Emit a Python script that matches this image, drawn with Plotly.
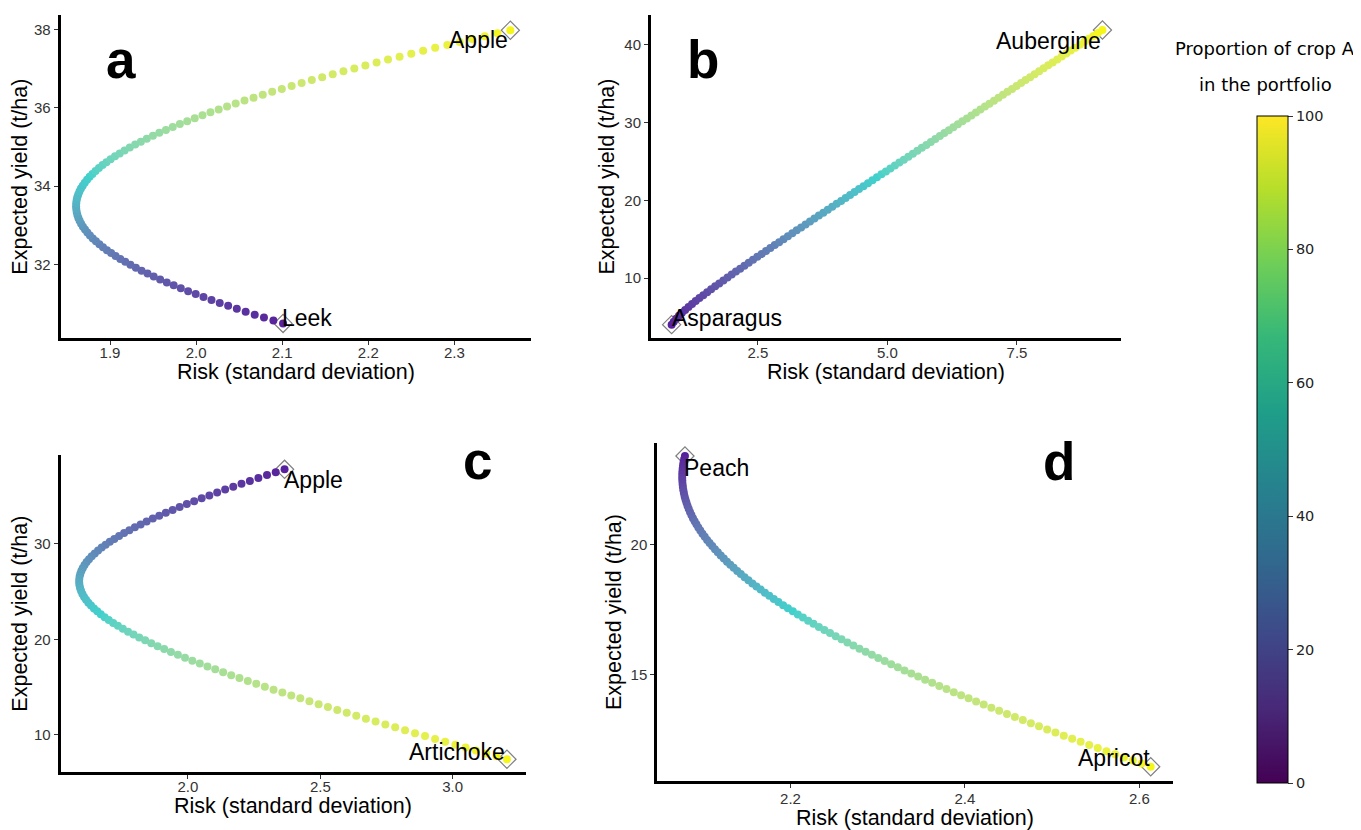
import numpy as np
import plotly.graph_objects as go

# ---------------- data ----------------
panel_letters = ["a", "b", "c", "d"]
crop_a_names = ["Apple", "Aubergine", "Artichoke", "Apricot"]   # crop A (proportion = 100)
crop_b_names = ["Leek", "Asparagus", "Apple", "Peach"]           # crop B (proportion = 0)
crop_a_yield = [37.98, 41.93, 7.46, 11.43]    # expected yield (t/ha)
crop_b_yield = [30.49, 4.00, 37.82, 23.44]
crop_a_sd = [2.365, 9.15, 3.205, 2.613]       # risk (standard deviation)
crop_b_sd = [2.101, 0.834, 2.365, 2.079]
crop_corr = [0.41, 0.50, -0.31, 0.76]         # correlation between the two crops
proportion_a = list(range(0, 101))            # % of crop A in the portfolio

x_ticks = [[1.9, 2.0, 2.1, 2.2, 2.3], [2.5, 5.0, 7.5], [2.0, 2.5, 3.0], [2.2, 2.4, 2.6]]
y_ticks = [[32, 34, 36, 38], [10, 20, 30, 40], [10, 20, 30], [15, 20]]
colorbar_ticks = [0, 20, 40, 60, 80, 100]

# ---------------- layout settings ----------------
# The page body has an 8 px margin, so the figure is drawn 8 px in from the corner.
OFF = 8
W, H = 1361 - OFF, 830 - OFF


def px(xp):
    return (xp - OFF) / W


def py(yp):
    return 1 - (yp - OFF) / H


# pixel boxes of the 4 panels in the screenshot: (left, right, top, bottom)
boxes = [(60.6, 531, 15, 338.3), (651, 1121, 15, 338), (60.6, 526, 455, 772.3), (657.3, 1172.5, 443.3, 780.7)]
x_ranges = [[1.8426, 2.389], [0.436, 9.508], [1.519, 3.277], [2.0473, 2.638]]
y_ranges = [[30.11, 38.37], [2.28, 43.86], [6.09, 39.32], [10.89, 23.93]]
xtitle_gap = [34, 34, 33.7, 37]
xtick_standoff = [-5, -5, -5, -2]
letter_pos = [(120.6, 59.8), (702.5, 59.8), (477.3, 460.8), (1058.6, 461.5)]
# label placement: (xanchor, xshift, yshift)
label_a_place = [("right", 0, -10), ("right", 1, -11), ("right", 0.5, 7.6), ("right", 1, 8.4)]
label_b_place = [("left", -3, 5.5), ("left", -1.5, 6.6), ("left", -3, -10.7), ("left", -3, -12.3)]

FONT = "Liberation Sans, Arial, sans-serif"


# ---- colour gradient purple -> turquoise -> yellow, interpolated in CIE Lab (like ggplot) ----
def _srgb_to_lab(hexc):
    rgb = np.array([int(hexc[i:i + 2], 16) for i in (1, 3, 5)]) / 255.0
    lin = np.where(rgb <= 0.04045, rgb / 12.92, ((rgb + 0.055) / 1.055) ** 2.4)
    M = np.array([[0.4124, 0.3576, 0.1805], [0.2126, 0.7152, 0.0722], [0.0193, 0.1192, 0.9505]])
    xyz = M @ lin / np.array([0.95047, 1.0, 1.08883])
    f = np.where(xyz > 0.008856, np.cbrt(xyz), 7.787 * xyz + 16 / 116)
    return np.array([116 * f[1] - 16, 500 * (f[0] - f[1]), 200 * (f[1] - f[2])])


def _lab_to_hex(lab):
    L, a, b = lab
    fy = (L + 16) / 116
    fx = fy + a / 500
    fz = fy - b / 200
    f = np.array([fx, fy, fz])
    xyz = np.where(f ** 3 > 0.008856, f ** 3, (f - 16 / 116) / 7.787) * np.array([0.95047, 1.0, 1.08883])
    Mi = np.array([[3.2406, -1.5372, -0.4986], [-0.9689, 1.8758, 0.0415], [0.0557, -0.2040, 1.0570]])
    lin = np.clip(Mi @ xyz, 0, 1)
    rgb = np.where(lin <= 0.0031308, 12.92 * lin, 1.055 * lin ** (1 / 2.4) - 0.055)
    rgb = np.clip(np.round(rgb * 255), 0, 255).astype(int)
    return "#%02x%02x%02x" % tuple(rgb)


anchors = ["#57209c", "#42d0cc", "#f6f61a"]
labs = [_srgb_to_lab(c) for c in anchors]
dot_scale = []
for k in range(41):
    s = k / 40
    if s <= 0.5:
        t = s / 0.5
        lab = labs[0] * (1 - t) + labs[1] * t
    else:
        t = (s - 0.5) / 0.5
        lab = labs[1] * (1 - t) + labs[2] * t
    dot_scale.append([s, _lab_to_hex(lab)])

fig = go.Figure()
layout = dict(
    width=W, height=H, margin=dict(l=0, r=0, t=0, b=0),
    paper_bgcolor="white", plot_bgcolor="white", showlegend=False,
    font=dict(family=FONT, color="black"),
)
annotations = []

for i in range(4):
    sfx = "" if i == 0 else str(i + 1)
    xa, ya = "x" + sfx, "y" + sfx
    l, r, t, b = boxes[i]
    w = np.array(proportion_a) / 100.0
    cov = crop_corr[i] * crop_a_sd[i] * crop_b_sd[i]
    risk = np.sqrt(w ** 2 * crop_a_sd[i] ** 2 + (1 - w) ** 2 * crop_b_sd[i] ** 2 + 2 * w * (1 - w) * cov)
    yld = w * crop_a_yield[i] + (1 - w) * crop_b_yield[i]

    # endpoint diamonds (the two single crops)
    fig.add_trace(go.Scatter(
        x=[crop_b_sd[i], crop_a_sd[i]], y=[crop_b_yield[i], crop_a_yield[i]],
        mode="markers", xaxis=xa, yaxis=ya, hoverinfo="skip",
        marker=dict(symbol="diamond", size=14, color="white", line=dict(color="#808080", width=1.2)),
    ))
    # portfolio frontier
    fig.add_trace(go.Scatter(
        x=risk, y=yld, mode="markers", xaxis=xa, yaxis=ya,
        marker=dict(size=8, color=proportion_a, colorscale=dot_scale, cmin=0, cmax=100,
                    showscale=False, line=dict(width=0)),
    ))

    axis_common = dict(
        showline=True, linecolor="black", linewidth=3, mirror=False,
        showgrid=False, zeroline=False, ticks="outside", ticklen=4, tickwidth=1.3,
        tickcolor="#333333", tickfont=dict(size=15, color="#333333", family=FONT),
    )
    layout["xaxis" + sfx] = dict(
        axis_common, domain=[px(l), px(r)], anchor=ya, range=x_ranges[i],
        tickvals=x_ticks[i], tickformat=".1f", ticklabelstandoff=xtick_standoff[i],
    )
    layout["yaxis" + sfx] = dict(
        axis_common, domain=[py(b), py(t)], anchor=xa, range=y_ranges[i],
        tickvals=y_ticks[i],
        title=dict(text="Expected yield (t/ha)", font=dict(size=21.5, color="black"), standoff=4),
    )
    # x-axis title, placed exactly under the axis
    annotations.append(dict(
        text="Risk (standard deviation)", x=px((l + r) / 2), y=py(b + xtitle_gap[i]),
        xref="paper", yref="paper", xanchor="center", yanchor="middle", showarrow=False,
        font=dict(size=21.5, family=FONT, color="black"),
    ))

    # panel letters
    lx, ly = letter_pos[i]
    annotations.append(dict(
        text="<b>%s</b>" % panel_letters[i], x=px(lx), y=py(ly), xref="paper", yref="paper",
        xanchor="center", yanchor="middle", showarrow=False,
        font=dict(size=53, family=FONT, color="black"),
    ))
    # crop labels
    xan, xs, ys = label_a_place[i]
    annotations.append(dict(
        text=crop_a_names[i], x=crop_a_sd[i], y=crop_a_yield[i], xref=xa, yref=ya,
        xanchor=xan, yanchor="middle", xshift=xs, yshift=ys, showarrow=False,
        font=dict(size=23, family=FONT, color="black"),
    ))
    xan, xs, ys = label_b_place[i]
    annotations.append(dict(
        text=crop_b_names[i], x=crop_b_sd[i], y=crop_b_yield[i], xref=xa, yref=ya,
        xanchor=xan, yanchor="middle", xshift=xs, yshift=ys, showarrow=False,
        font=dict(size=23, family=FONT, color="black"),
    ))

# colour bar (viridis legend for proportion of crop A)
fig.add_trace(go.Scatter(
    x=[None], y=[None], mode="markers", xaxis="x", yaxis="y", hoverinfo="skip",
    marker=dict(color=[0], colorscale="Viridis", cmin=0, cmax=100, showscale=True,
                colorbar=dict(
                    x=px(1256.5), xanchor="left", y=py(116), yanchor="top",
                    len=(783 - 116) / H, lenmode="fraction",
                    thickness=31, thicknessmode="pixels", xpad=0, ypad=0,
                    outlinecolor="black", outlinewidth=1,
                    ticks="outside", ticklen=5, tickwidth=1, tickcolor="#333333",
                    tickvals=colorbar_ticks,
                    tickfont=dict(size=14.5, family="DejaVu Sans", color="#222222"),
                )),
))

annotations.append(dict(text="Proportion of crop A", x=px(1265), y=py(48), xref="paper", yref="paper",
                        xanchor="center", yanchor="middle", showarrow=False,
                        font=dict(size=18, family="DejaVu Sans", color="black")))
annotations.append(dict(text="in the portfolio", x=px(1265), y=py(85), xref="paper", yref="paper",
                        xanchor="center", yanchor="middle", showarrow=False,
                        font=dict(size=18, family="DejaVu Sans", color="black")))

layout["annotations"] = annotations
fig.update_layout(**layout)
fig.write_html("out.html")
